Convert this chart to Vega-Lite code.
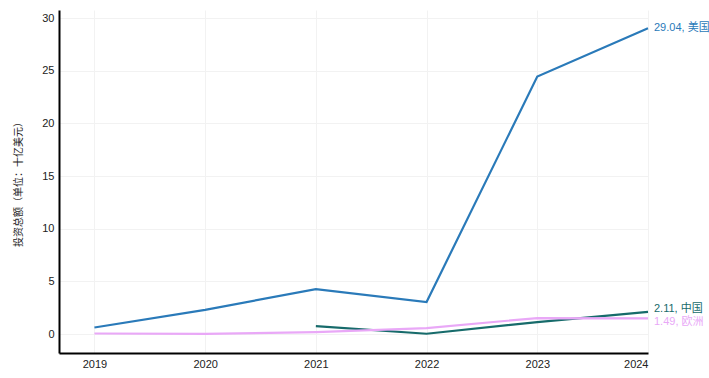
{
  "$schema": "https://vega.github.io/schema/vega-lite/v6.json",
  "width": 589,
  "height": 343,
  "autosize": {"type": "none"},
  "padding": {"left": 59, "top": 10, "right": 61, "bottom": 25},
  "background": "white",
  "config": {
    "view": {"stroke": null},
    "font": "Liberation Sans, Noto Sans CJK SC",
    "axis": {"labelFont": "Liberation Sans, Noto Sans CJK SC", "titleFont": "Liberation Sans, Noto Sans CJK SC"}
  },
  "data": {
    "values": [
      {"year": 2019, "country": "美国", "value": 0.62},
      {"year": 2020, "country": "美国", "value": 2.3},
      {"year": 2021, "country": "美国", "value": 4.27},
      {"year": 2022, "country": "美国", "value": 3.04},
      {"year": 2023, "country": "美国", "value": 24.45},
      {"year": 2024, "country": "美国", "value": 29.04},
      {"year": 2021, "country": "中国", "value": 0.76},
      {"year": 2022, "country": "中国", "value": 0.03},
      {"year": 2023, "country": "中国", "value": 1.14},
      {"year": 2024, "country": "中国", "value": 2.11},
      {"year": 2019, "country": "欧洲", "value": 0.05},
      {"year": 2020, "country": "欧洲", "value": 0.02},
      {"year": 2021, "country": "欧洲", "value": 0.18},
      {"year": 2022, "country": "欧洲", "value": 0.57},
      {"year": 2023, "country": "欧洲", "value": 1.52},
      {"year": 2024, "country": "欧洲", "value": 1.49}
    ]
  },
  "encoding": {
    "x": {
      "field": "year", "type": "quantitative",
      "scale": {"domain": [2018.68, 2024], "nice": false, "zero": false},
      "axis": {
        "title": null, "format": "d", "values": [2019, 2020, 2021, 2022, 2023, 2024],
        "domainColor": "#000000", "domainWidth": 2, "ticks": false,
        "labelFontSize": 11, "labelColor": "#222222", "labelPadding": 5,
        "grid": true, "gridColor": "#f2f2f2", "gridWidth": 1
      }
    },
    "y": {
      "field": "value", "type": "quantitative",
      "scale": {"domain": [-1.8, 30.77], "nice": false, "zero": false},
      "axis": {
        "title": "投资总额（单位：十亿美元）", "values": [0, 5, 10, 15, 20, 25, 30],
        "titleFontSize": 10, "titleFontWeight": "normal", "titleColor": "#222222", "titlePadding": 18,
        "domainColor": "#000000", "domainWidth": 2, "ticks": false,
        "labelFontSize": 11, "labelColor": "#222222", "labelPadding": 5,
        "grid": true, "gridColor": "#f2f2f2", "gridWidth": 1
      }
    },
    "color": {
      "field": "country", "type": "nominal",
      "scale": {"domain": ["美国", "中国", "欧洲"], "range": ["#2a7ab9", "#176b6b", "#e9a8f7"]},
      "legend": null
    }
  },
  "layer": [
    {"mark": {"type": "line", "strokeWidth": 2.2}, "encoding": {"order": {"field": "year"}}},
    {
      "transform": [{"filter": "datum.year == 2024 && datum.country == '美国'"}, {"calculate": "format(datum.value, '.2f') + ', ' + datum.country", "as": "label"}],
      "mark": {"type": "text", "align": "left", "baseline": "middle", "dx": 6, "fontSize": 11},
      "encoding": {"text": {"field": "label"}}
    },
    {
      "transform": [{"filter": "datum.year == 2024 && datum.country == '中国'"}, {"calculate": "format(datum.value, '.2f') + ', ' + datum.country", "as": "label"}],
      "mark": {"type": "text", "align": "left", "baseline": "middle", "dx": 6, "dy": -3, "fontSize": 11},
      "encoding": {"text": {"field": "label"}}
    },
    {
      "transform": [{"filter": "datum.year == 2024 && datum.country == '欧洲'"}, {"calculate": "format(datum.value, '.2f') + ', ' + datum.country", "as": "label"}],
      "mark": {"type": "text", "align": "left", "baseline": "middle", "dx": 6, "dy": 4, "fontSize": 11},
      "encoding": {"text": {"field": "label"}}
    }
  ]
}
